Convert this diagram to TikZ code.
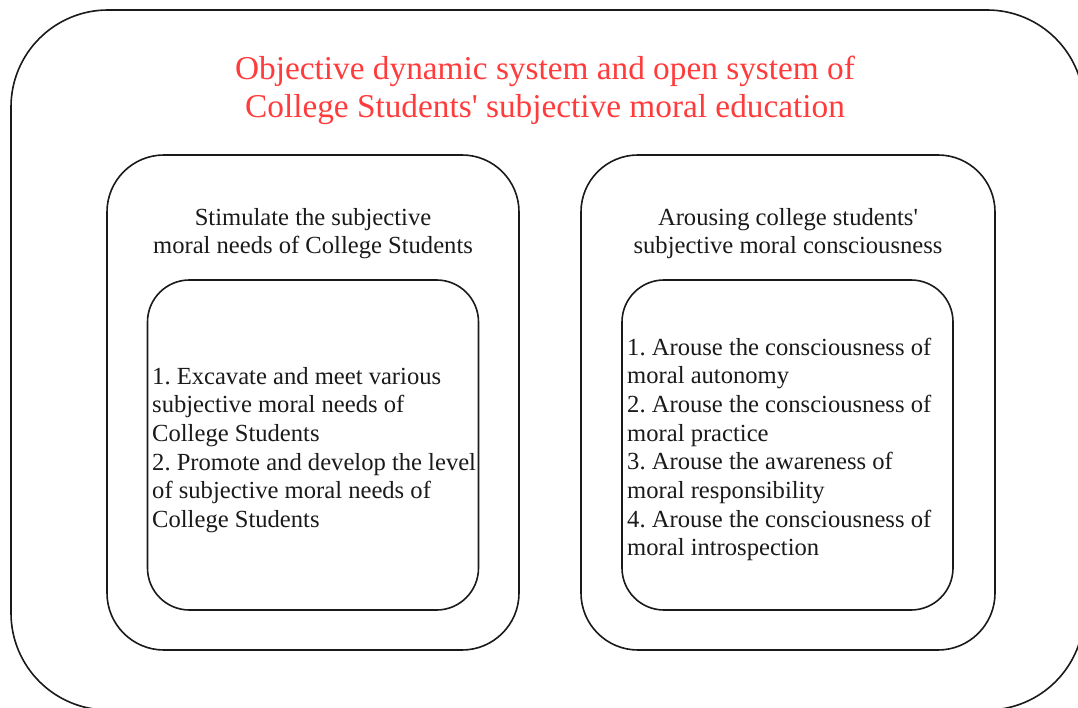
\documentclass[tikz,border=0pt]{standalone}
\usepackage{fontspec}
\setmainfont{Liberation Serif}
\definecolor{titlered}{HTML}{FF3B3B}
\definecolor{ink}{HTML}{1A1A1A}
\tikzset{
  frame/.style={draw=ink, line width=1.6pt, inner sep=0pt},
  bodytext/.style={text=ink, font=\fontsize{24.6}{28.7}\selectfont\frenchspacing, inner sep=0pt},
  titletext/.style={text=titlered, font=\fontsize{33.3}{38}\selectfont, inner sep=0pt, align=center}
}
\begin{document}
\begin{tikzpicture}[x=1pt,y=-1pt]
\useasboundingbox (0,0) rectangle (1078,708);
\clip (0,0) rectangle (1078,708);
\fill[white] (0,0) rectangle (1078,708);
% outer
\node[frame, rounded corners=97pt, minimum width=1073pt, minimum height=700pt] (outer) at (547.5,360) {};
\node[titletext] (title) at (545,90) {Objective dynamic system and open system of\\College Students\textquotesingle\ subjective moral education};
% middle boxes
\node[frame, rounded corners=57pt, minimum width=412pt, minimum height=495pt] (midL) at (313,402.5) {};
\node[frame, rounded corners=57pt, minimum width=414pt, minimum height=495pt] (midR) at (788,402.5) {};
\node[bodytext, align=center] (headL) at (313,233.5) {Stimulate the subjective\\moral needs of College Students};
\node[bodytext, align=center] (headR) at (788,233.5) {Arousing college students\textquotesingle\\subjective moral consciousness};
% inner boxes
\node[frame, rounded corners=42pt, minimum width=331pt, minimum height=330pt] (inL) at (313,445) {};
\node[frame, rounded corners=42pt, minimum width=331pt, minimum height=330pt] (inR) at (787.5,445) {};
\node[bodytext, align=left, anchor=west] (listL) at (152,450) {1. Excavate and meet various\\subjective moral needs of\\College Students\\2. Promote and develop the level\\of subjective moral needs of\\College Students};
\node[bodytext, align=left, anchor=west] (listR) at (627,449.5) {1. Arouse the consciousness of\\moral autonomy\\2. Arouse the consciousness of\\moral practice\\3. Arouse the awareness of\\moral responsibility\\4. Arouse the consciousness of\\moral introspection};
\end{tikzpicture}
\end{document}
